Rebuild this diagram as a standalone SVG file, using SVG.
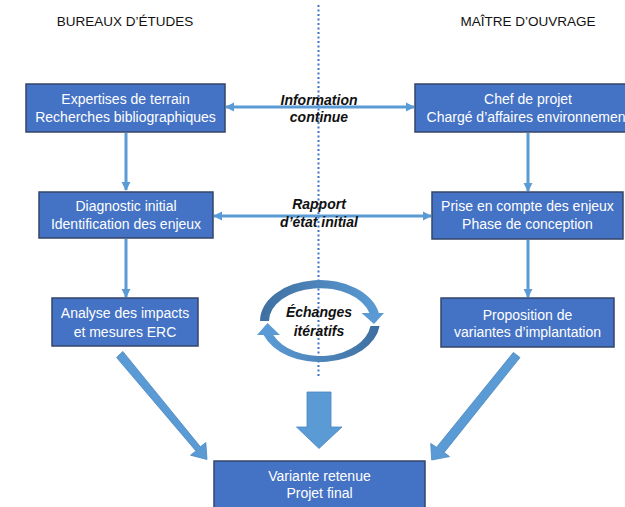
<svg xmlns="http://www.w3.org/2000/svg" width="625" height="507" viewBox="0 0 625 507">
<style>
.box{fill:#4472C4;stroke:#34466A;stroke-width:1.5}
.bt{font-family:"Liberation Sans",Arial,sans-serif;font-size:14px;fill:#FFFFFF;text-anchor:middle}
.title{font-family:"Liberation Sans",Arial,sans-serif;font-size:13.5px;fill:#111111;text-anchor:middle}
.lab{font-family:"Liberation Sans",Arial,sans-serif;font-size:14px;font-weight:bold;font-style:italic;fill:#111111;text-anchor:middle}
.conn{stroke:#5B9BD5;stroke-width:3;fill:none}
.block{fill:#5B9BD5;stroke:#4A86C0;stroke-width:0.8}
</style>
<defs>
<marker id="ah" viewBox="0 0 10 10" refX="9" refY="5" markerWidth="9" markerHeight="10" markerUnits="userSpaceOnUse" orient="auto-start-reverse">
<path d="M0,0 L10,5 L0,10 Z" fill="#5B9BD5"/>
</marker>
<linearGradient id="gTop" x1="0" y1="0" x2="1" y2="0">
<stop offset="0" stop-color="#3F6FA0"/>
<stop offset="1" stop-color="#5B9BD5"/>
</linearGradient>
<linearGradient id="gBot" x1="1" y1="0" x2="0" y2="0">
<stop offset="0" stop-color="#3F6FA0"/>
<stop offset="1" stop-color="#5B9BD5"/>
</linearGradient>
</defs>
<rect width="625" height="507" fill="#FFFFFF"/>

<g id="titles">
<text class="title" x="125" y="26">BUREAUX D’ÉTUDES</text>
<text class="title" x="528" y="26">MAÎTRE D’OUVRAGE</text>
</g>

<line id="separator" x1="318.5" y1="5" x2="318.5" y2="377" stroke="#4472C4" stroke-width="2" stroke-dasharray="2 2.5"/>

<g id="connectors">
<line class="conn" x1="226" y1="107" x2="414" y2="107" marker-start="url(#ah)" marker-end="url(#ah)"/>
<line class="conn" x1="214" y1="216" x2="431" y2="216" marker-start="url(#ah)" marker-end="url(#ah)"/>
<line class="conn" x1="126" y1="133" x2="126" y2="190" marker-end="url(#ah)"/>
<line class="conn" x1="126" y1="239" x2="126" y2="297" marker-end="url(#ah)"/>
<line class="conn" x1="528" y1="133" x2="528" y2="191" marker-end="url(#ah)"/>
<line class="conn" x1="528" y1="240" x2="528" y2="297" marker-end="url(#ah)"/>
<polygon class="block" points="116.6,357.6 122.8,351.4 200.4,446.8 205.8,442.5 207,459.5 190.5,455.2 195.9,450.9"/>
<polygon class="block" points="513.4,352.4 520,357.6 444.2,452.4 449.6,456.6 431.7,460 430.7,443.4 436.6,447.2"/>
<polygon class="block" points="307,392 331,392 331,427 342,427 319,448.5 296.5,427 307,427"/>
</g>

<g id="labels">
<text class="lab" x="319" y="105">Information</text>
<text class="lab" x="319" y="122">continue</text>
<text class="lab" x="319" y="209">Rapport</text>
<text class="lab" x="319" y="227">d’état initial</text>
</g>

<g id="iterations">
<path d="M260,321 A60 41 0 0 1 378.9,313.2 L369.5,313.2 A51 33 0 0 0 269,321 Z" fill="url(#gTop)"/>
<polygon points="361.5,313 384,313 374,324" fill="#5B9BD5"/>
<path d="M379.6,326 A60 41 0 0 1 263.6,335 L273.3,335 A51 35 0 0 0 370.5,326 Z" fill="url(#gBot)"/>
<polygon points="257,335 280,335 267.5,323" fill="#5B9BD5"/>
<text class="lab" x="319" y="317">Échanges</text>
<text class="lab" x="319" y="336">itératifs</text>
</g>

<g id="n1">
<rect class="box" x="26" y="84" width="199" height="48"/>
<text class="bt" x="125.5" y="104">Expertises de terrain</text>
<text class="bt" x="125.5" y="122">Recherches bibliographiques</text>
</g>
<g id="n2">
<rect class="box" x="415" y="84" width="226" height="48"/>
<text class="bt" x="528" y="104">Chef de projet</text>
<text class="bt" x="528" y="122">Chargé d’affaires environnement</text>
</g>
<g id="n3">
<rect class="box" x="39" y="192" width="174" height="46"/>
<text class="bt" x="126" y="211">Diagnostic initial</text>
<text class="bt" x="126" y="229">Identification des enjeux</text>
</g>
<g id="n4">
<rect class="box" x="432" y="192" width="191" height="47"/>
<text class="bt" x="527.5" y="211">Prise en compte des enjeux</text>
<text class="bt" x="527.5" y="229">Phase de conception</text>
</g>
<g id="n5">
<rect class="box" x="52" y="298" width="146" height="48"/>
<text class="bt" x="125" y="318">Analyse des impacts</text>
<text class="bt" x="125" y="337">et mesures ERC</text>
</g>
<g id="n6">
<rect class="box" x="441" y="298" width="173" height="49"/>
<text class="bt" x="527.5" y="320">Proposition de</text>
<text class="bt" x="527.5" y="337">variantes d’implantation</text>
</g>
<g id="n7">
<rect class="box" x="214" y="461" width="211" height="50"/>
<text class="bt" x="319.5" y="481">Variante retenue</text>
<text class="bt" x="319.5" y="498">Projet final</text>
</g>
</svg>
